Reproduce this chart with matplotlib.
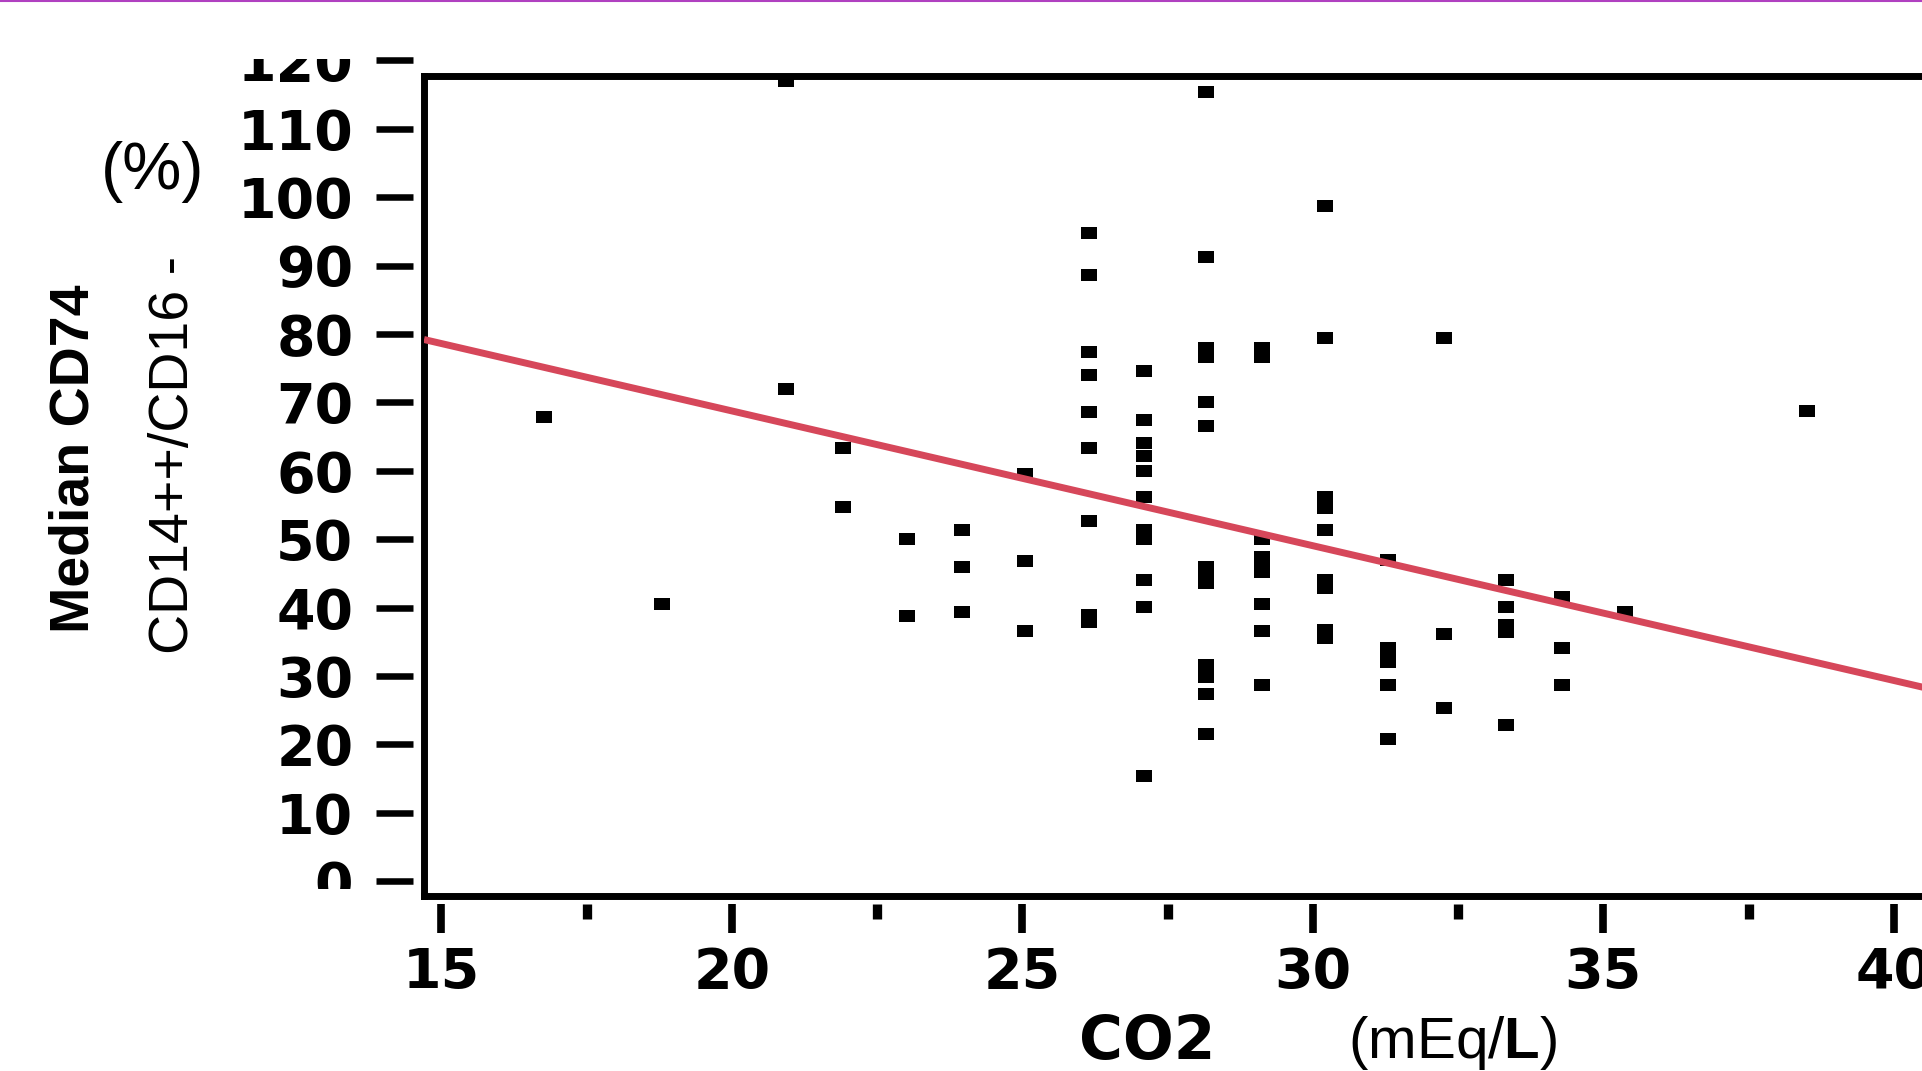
import numpy as np
import matplotlib.pyplot as plt
from matplotlib.lines import Line2D
from matplotlib.transforms import Bbox, TransformedBbox

plt.rcParams['font.family'] = 'DejaVu Sans'
plt.rcParams['font.weight'] = 'bold'
plt.rcParams['mathtext.fontset'] = 'custom'
plt.rcParams['mathtext.rm'] = 'Liberation Sans'
plt.rcParams['mathtext.bf'] = 'Liberation Sans:bold'

# CO2 (mEq/L) against median CD74 on CD14++/CD16- monocytes (%)
co2 = [16.76,
       18.80,
       20.93, 20.93,
       21.92, 21.92,
       23.01, 23.01,
       23.97, 23.97, 23.97,
       25.05, 25.05, 25.05,
       26.14, 26.14, 26.14, 26.14, 26.14, 26.14, 26.14, 26.14, 26.14,
       27.09, 27.09, 27.09, 27.09, 27.09, 27.09, 27.09, 27.09, 27.09, 27.09, 27.09,
       28.17, 28.17, 28.17, 28.17, 28.17, 28.17, 28.17, 28.17, 28.17, 28.17, 28.17, 28.17, 28.17,
       29.12, 29.12, 29.12, 29.12, 29.12, 29.12, 29.12, 29.12, 29.12,
       30.21, 30.21, 30.21, 30.21, 30.21, 30.21, 30.21, 30.21, 30.21,
       31.30, 31.30, 31.30, 31.30, 31.30, 31.30,
       32.25, 32.25, 32.25,
       33.33, 33.33, 33.33, 33.33, 33.33,
       34.29, 34.29, 34.29,
       35.37,
       38.50]
cd74 = [67.9,
        40.6,
        117.0, 72.0,
        63.4, 54.7,
        50.1, 38.8,
        51.3, 46.0, 39.4,
        59.6, 46.8, 36.6,
        94.7, 88.6, 77.3, 74.0, 68.6, 63.3, 52.7, 38.9, 37.9,
        74.6, 67.4, 64.0, 62.1, 60.0, 56.1, 51.3, 50.1, 44.0, 40.1, 15.4,
        115.3, 91.3, 78.0, 76.7, 70.0, 66.6, 46.0, 44.8, 43.6, 31.6, 29.9, 27.4, 21.5,
        78.0, 76.7, 50.1, 47.4, 46.3, 45.2, 40.6, 36.6, 28.7,
        98.7, 79.4, 56.2, 54.5, 51.3, 44.0, 42.8, 36.7, 35.5,
        47.0, 34.1, 33.1, 32.1, 28.7, 20.8,
        79.4, 36.1, 25.4,
        44.0, 40.1, 37.5, 36.5, 22.8,
        41.6, 34.1, 28.7,
        39.4,
        68.7]

# linear fit line
fit_intercept = 108.15
fit_slope = -1.97

x_major = [15, 20, 25, 30, 35, 40]
x_minor = [17.5, 22.5, 27.5, 32.5, 37.5]
y_ticks = [0, 10, 20, 30, 40, 50, 60, 70, 80, 90, 100, 110, 120]

W, H = 1922, 1071
fig = plt.figure(figsize=(W / 100, H / 100), dpi=100)

# plot frame, right edge runs just off the canvas
ax_pos = [424 / W, (H - 895.5) / H, (1923.5 - 424) / W, (895.5 - 76) / H]
xlim = (14.702, 40.511)
ylim = (-2.075, 117.70)

ax = fig.add_axes(ax_pos)
ax.set_xlim(xlim)
ax.set_ylim(ylim)
for s in ax.spines.values():
    s.set_linewidth(5)
    s.set_color('black')
ax.tick_params(bottom=False, labelbottom=False, left=False, labelleft=False)

box = [(-1, -0.74), (1, -0.74), (1, 0.74), (-1, 0.74)]
ax.plot(co2, cd74, linestyle='none', marker=box, markersize=11.8,
        markerfacecolor='black', markeredgewidth=0, zorder=2)

xs = np.array(xlim)
ax.plot(xs, fit_intercept + fit_slope * xs, color='#D6475A', lw=5,
        solid_capstyle='butt', zorder=3)

# x ticks sit a little below the frame
axt = fig.add_axes(ax_pos, sharex=ax)
axt.patch.set_visible(False)
for s in axt.spines.values():
    s.set_visible(False)
axt.spines['bottom'].set_position(('outward', 6.3))
axt.set_yticks([])
axt.set_xticks(x_major)
axt.set_xticks(x_minor, minor=True)
axt.tick_params(axis='x', which='major', direction='out', length=20.9, width=5.5,
                pad=9, labelsize=40)
axt.tick_params(axis='x', which='minor', direction='out', length=10.8, width=6.7)

# y axis spans past the frame so the 120 tick still shows
frac = ax_pos[3] / (ylim[1] - ylim[0])
ay_lim = (-6, 124)
ay_pos = [ax_pos[0], ax_pos[1] + (ay_lim[0] - ylim[0]) * frac,
          ax_pos[2], (ay_lim[1] - ay_lim[0]) * frac]
ay = fig.add_axes(ay_pos)
ay.patch.set_visible(False)
for s in ay.spines.values():
    s.set_visible(False)
ay.spines['left'].set_position(('outward', 7.9))
ay.set_ylim(ay_lim)
ay.set_xticks([])
ay.set_yticks(y_ticks)
ay.tick_params(axis='y', direction='out', length=27, width=4.7, pad=16, labelsize=40)

clip = TransformedBbox(Bbox.from_extents(0, 182 / H, 1, 1012 / H), fig.transFigure)
for t in ay.yaxis.get_major_ticks():
    t.label1.set_clip_box(clip)
    t.label1.set_clip_on(True)

fig.text(75 / W, 1 - 459 / H, 'Median CD74', rotation=90, ha='center', va='center',
         fontsize=40, fontweight='bold', family='Liberation Sans')
fig.text(174 / W, 1 - 455 / H, 'CD14++/CD16 -', rotation=90, ha='center', va='center',
         fontsize=40, fontweight='normal', family='Liberation Sans')
fig.text(153 / W, 1 - 172 / H, '(%)', ha='center', va='center',
         fontsize=48, fontweight='normal', family='Liberation Sans')
fig.text(1147 / W, 1 - 1042 / H, 'CO2', ha='center', va='center',
         fontsize=43, fontweight='bold')
fig.text(1453 / W, 1 - 1043 / H, r'(mEq/$\mathbf{L}$)', ha='center', va='center',
         fontsize=42, fontweight='normal', family='Liberation Sans')

fig.add_artist(Line2D([0, 1], [1 - 1 / H, 1 - 1 / H], transform=fig.transFigure,
                      color='#B040C0', lw=1.5))

fig.savefig('out.png', dpi=100)
